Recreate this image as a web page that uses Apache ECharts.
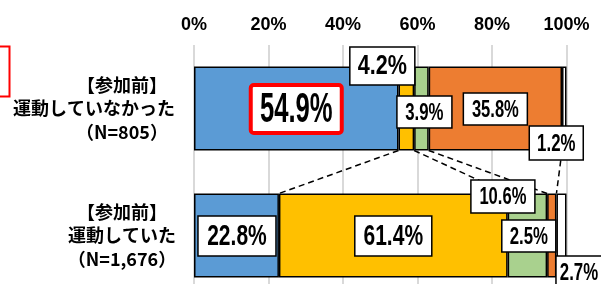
<!DOCTYPE html>
<html><head><meta charset="utf-8">
<script src="https://cdn.jsdelivr.net/npm/echarts@6/dist/echarts.min.js"></script>
<style>html,body{margin:0;padding:0;background:#fff}#c{width:601px;height:284px}</style>
</head><body><div id="c"></div>
<script>
// ---- data ----
const categories = ['【参加前】\n運動していなかった\n（N=805）', '【参加前】\n運動していた\n（N=1,676）'];
const seriesNames = ['A', 'B', 'C', 'D', 'E'];
const blueValues = [54.9, 22.8];
const yellowValues = [4.2, 61.4];
const greenValues = [3.9, 10.6];
const orangeValues = [35.8, 2.5];
const whiteValues = [1.2, 2.7];
const tickValues = [0, 20, 40, 60, 80, 100];

// ---- style / layout (not data) ----
const colors = ['#5B9BD5', '#FFC000', '#A9D18E', '#ED7D31', '#FFFFFF'];
// per series, per category: label box offset from segment centre, box size, font size, horizontal squeeze
const labelLayout = [
  [{off: [0, 0.5], w: 91, h: 48, fs: 42, sx: 0.61, bc: '#ff0000', bw: 4, r: 3},
   {off: [0.5, 0.5], w: 78, h: 40, fs: 30, sx: 0.7}],
  [{off: [-24, -42.5], w: 65, h: 38, fs: 27, sx: 0.8},
   {off: [0, 0.5], w: 77, h: 40, fs: 30, sx: 0.7}],
  [{off: [3, 3.5], w: 55, h: 32, fs: 24, sx: 0.7},
   {off: [-24.5, -39], w: 64, h: 33, fs: 24, sx: 0.69}],
  [{off: [0, 0.5], w: 64, h: 32, fs: 24, sx: 0.69},
   {off: [-23, 0.5], w: 54, h: 32, fs: 24, sx: 0.7}],
  [{off: [-8, 34.5], w: 54, h: 34, fs: 24, sx: 0.7},
   {off: [17.5, 36.5], w: 46, h: 32, fs: 24, sx: 0.7}]
];
const NUMFONT = "'Liberation Sans',Arial,sans-serif";
const JP = "'Noto Sans CJK JP',sans-serif";
const BAR_W = 84;

const allValues = [blueValues, yellowValues, greenValues, orangeValues, whiteValues];

// cumulative boundaries for connecting dashed lines and label anchors
function starts(ci) {
  const out = []; let s = 0;
  for (let k = 0; k < allValues.length; k++) { out.push(s); s += allValues[k][ci]; }
  return out;
}
const st = [starts(0), starts(1)];
const connData = [1, 2, 3, 4].map(k => [st[0][k], st[1][k], 0]);

const labelData = [];
allValues.forEach((vals, si) => vals.forEach((v, ci) => {
  labelData.push([st[ci][si], st[ci][si] + v, ci, v, si]);
}));

const barSeries = allValues.map((vals, si) => ({
  type: 'bar', name: seriesNames[si], stack: 'total', barWidth: BAR_W, z: 2,
  itemStyle: {color: colors[si], borderColor: '#000', borderWidth: 1.5},
  data: vals
}));

const chart = echarts.init(document.getElementById('c'), null, {renderer: 'canvas'});
chart.setOption({
  animation: false,
  backgroundColor: '#fff',
  grid: {left: 194, top: 45, width: 372.5, height: 254, containLabel: false, outerBoundsMode: 'none'},
  xAxis: {
    type: 'value', position: 'top', min: 0, max: 100, interval: 20,
    axisLine: {show: false}, axisTick: {show: false},
    splitLine: {show: true, lineStyle: {color: '#d9d9d9', width: 2}},
    axisLabel: {
      margin: 11, color: '#000', fontFamily: NUMFONT, fontWeight: 'bold', fontSize: 18,
      formatter: (v) => (tickValues.indexOf(v) >= 0 ? v + '%' : '')
    }
  },
  yAxis: {
    type: 'category', inverse: true, data: categories,
    axisLine: {show: false}, axisTick: {show: false},
    axisLabel: {
      margin: 72, align: 'center', color: '#000',
      formatter: (v) => v.split('\n').map((line, i) =>
        (i === 1 && line.length > 7) ? '{b|' + line + '}' : '{a|' + line + '}').join('\n'),
      rich: {
        a: {fontFamily: JP, fontWeight: 'bold', fontSize: 18, lineHeight: 23.5, color: '#000'},
        b: {fontFamily: JP, fontWeight: 'bold', fontSize: 18, lineHeight: 23.5, color: '#000', padding: [0, 56, 0, 0]}
      }
    }
  },
  graphic: [{
    type: 'rect', left: -20, top: 44, shape: {x: 0, y: 0, width: 27, height: 50},
    style: {fill: 'none', stroke: '#ff0000', lineWidth: 2}
  }],
  series: [{
    type: 'custom', z: 1, silent: true,
    encode: {x: [0, 1], y: 2},
    data: connData,
    renderItem: (params, api) => {
      const p1 = api.coord([api.value(0), 0]);
      const p2 = api.coord([api.value(1), 1]);
      return {
        type: 'line',
        shape: {x1: p1[0], y1: p1[1] + BAR_W / 2, x2: p2[0], y2: p2[1] - BAR_W / 2},
        style: {stroke: '#000', lineWidth: 1.5, lineDash: [6, 4]}
      };
    }
  }].concat(barSeries).concat([{
    type: 'custom', z: 5, silent: true,
    encode: {x: [0, 1], y: 2},
    data: labelData,
    renderItem: (params, api) => {
      const s = api.value(0), e = api.value(1), ci = api.value(2), v = api.value(3), si = api.value(4);
      const L = labelLayout[si][ci];
      const c = api.coord([(s + e) / 2, ci]);
      return {
        type: 'group', x: c[0] + L.off[0], y: c[1] + L.off[1],
        children: [{
          type: 'rect',
          shape: {x: -L.w / 2, y: -L.h / 2, width: L.w, height: L.h, r: L.r || 0},
          style: {fill: '#fff', stroke: L.bc || '#000', lineWidth: L.bw || 1.5}
        }, {
          type: 'text', x: 0, y: 1, scaleX: L.sx,
          style: {
            text: v.toFixed(1) + '%', x: 0, y: 0, align: 'center', verticalAlign: 'middle',
            fontFamily: NUMFONT, fontWeight: 'bold', fontSize: L.fs, fill: '#000'
          }
        }]
      };
    }
  }])
});
</script></body></html>
